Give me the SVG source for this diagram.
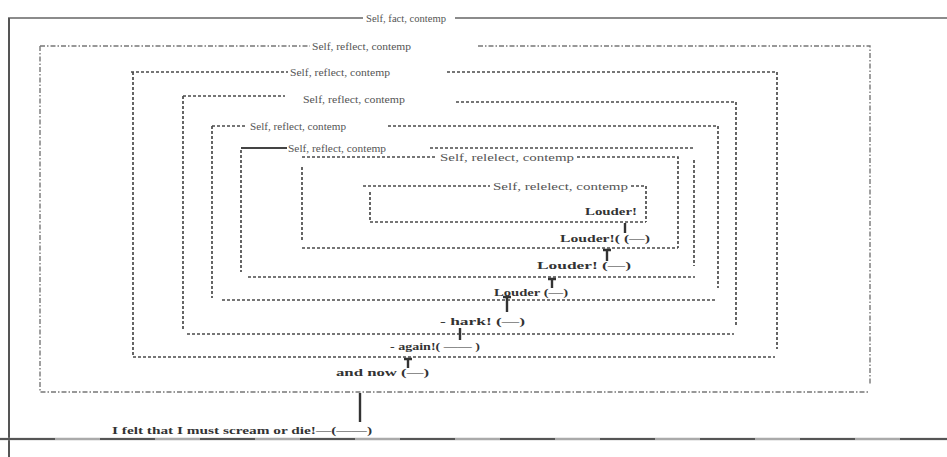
<svg xmlns="http://www.w3.org/2000/svg" width="947" height="457" viewBox="0 0 947 457">
<style>
  .bg{fill:#ffffff}
  .frame{fill:none;stroke:#666;stroke-width:1.6}
  .b1{fill:none;stroke:#777;stroke-width:1.4;stroke-dasharray:5 2 1.5 2}
  .bx{fill:none;stroke:#4a4a4a;stroke-width:1.7;stroke-dasharray:3 2}
  .solid{fill:none;stroke:#444;stroke-width:1.8}
  .lbl{font-family:"Liberation Serif","DejaVu Serif",serif;font-size:11px;fill:#555}
  .say{font-family:"Liberation Serif","DejaVu Serif",serif;font-size:11px;font-weight:bold;fill:#333}
  .con{stroke:#333;stroke-width:2.4;fill:none}
</style>
<rect class="bg" x="0" y="0" width="947" height="457"/>

<g id="frame">
  <path class="frame" d="M8 18 H363 M455 18 H947"/>
  <path d="M9 18 V457" stroke="#555" stroke-width="2" fill="none"/>
  <path d="M0 439 H947" stroke="#aaa" stroke-width="2.6" fill="none"/>
  <path d="M0 439 H947" stroke="#555" stroke-width="2" stroke-dasharray="55 45" fill="none"/>
  <text class="lbl" x="366" y="22" textLength="80" lengthAdjust="spacingAndGlyphs">Self, fact, contemp</text>
</g>

<g id="box1">
  <path class="b1" d="M40 46 H310 M478 46 H870 V384 M40 46 V392 H868"/>
  <text class="lbl" x="312" y="50" textLength="99" lengthAdjust="spacingAndGlyphs">Self, reflect, contemp</text>
</g>

<g id="box2">
  <path class="bx" d="M131 72 H288 M447 72 H777 V349 M133 72 V357 H775"/>
  <text class="lbl" x="290" y="76" textLength="100" lengthAdjust="spacingAndGlyphs">Self, reflect, contemp</text>
</g>

<g id="box3">
  <path class="bx" d="M183 96 H285 M456 102 H736 V325 M183 96 V331 M187 334 H734"/>
  <text class="lbl" x="303" y="103" textLength="102" lengthAdjust="spacingAndGlyphs">Self, reflect, contemp</text>
</g>

<g id="box4">
  <path class="bx" d="M212 126 H245 M388 126 H718 V288 M212 126 V298 M222 300 H717"/>
  <text class="lbl" x="250" y="130" textLength="96" lengthAdjust="spacingAndGlyphs">Self, reflect, contemp</text>
</g>

<g id="box5">
  <path class="solid" d="M241 148 H287"/>
  <path class="bx" d="M430 148 H693 M694 160 V266 M241 150 V272 M248 277 H695"/>
  <text class="lbl" x="288" y="152" textLength="98" lengthAdjust="spacingAndGlyphs">Self, reflect, contemp</text>
</g>

<g id="box6">
  <path class="bx" d="M302 157 H437 M577 157 H678 V248 M302 167 V241 M302 248 H678"/>
  <text class="lbl" x="440" y="161" font-size="12" textLength="134" lengthAdjust="spacingAndGlyphs">Self, relelect, contemp</text>
</g>

<g id="box7">
  <path class="bx" d="M363 186 H490 M631 186 H646 V222 M370 192 V222 H646"/>
  <text class="lbl" x="493" y="190" font-size="12" textLength="135" lengthAdjust="spacingAndGlyphs">Self, relelect, contemp</text>
  <text class="say" x="585" y="215" textLength="52" lengthAdjust="spacingAndGlyphs">Louder!</text>
</g>

<g id="labels">
  <text class="say" x="560" y="242" textLength="90" lengthAdjust="spacingAndGlyphs">Louder!( (—)</text>
  <text class="say" x="537" y="269" textLength="94" lengthAdjust="spacingAndGlyphs">Louder! (—)</text>
  <text class="say" x="494" y="296" textLength="74" lengthAdjust="spacingAndGlyphs">Louder (—)</text>
  <text class="say" x="440" y="325" textLength="85" lengthAdjust="spacingAndGlyphs">- hark! (—)</text>
  <text class="say" x="390" y="350" textLength="90" lengthAdjust="spacingAndGlyphs">- again!( —— )</text>
  <text class="say" x="336" y="376" textLength="93" lengthAdjust="spacingAndGlyphs">and now (—)</text>
  <text class="say" x="112" y="434" textLength="260" lengthAdjust="spacingAndGlyphs">I felt that I must scream or die!—(——)</text>
</g>

<g id="connectors">
  <path class="con" d="M625 223 V233"/>
  <path class="con" d="M607 249 V261 M603 250 H611"/>
  <path class="con" d="M552 278 V288 M548 279 H556"/>
  <path class="con" d="M507 297 V312 M503 297 H511"/>
  <path class="con" d="M460 328 V340"/>
  <path class="con" d="M408 358 V368 M404 359 H412"/>
  <path class="con" d="M360 393 V422" stroke-width="3"/>
</g>
</svg>
